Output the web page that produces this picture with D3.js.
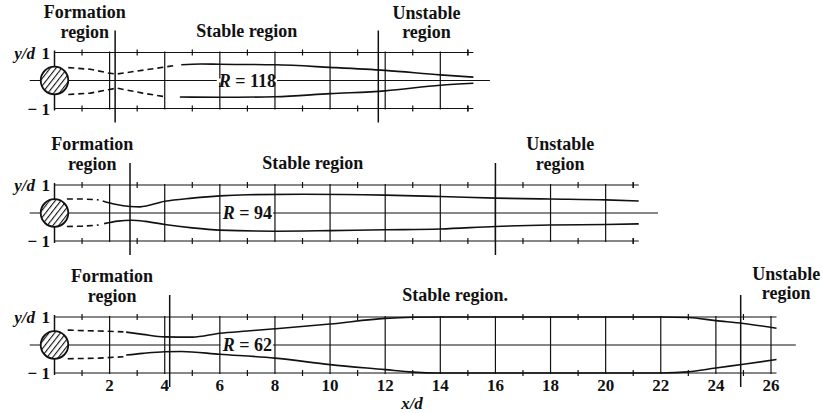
<!DOCTYPE html>
<html lang="en">
<head>
<meta charset="utf-8">
<title>Vortex street regions</title>
<script src="https://cdn.jsdelivr.net/npm/d3@7"></script>
<style type="text/css">
body { margin: 0; background: #fff; }
text { font-family: "Liberation Serif", "Times New Roman", serif; font-weight: bold; fill: #111; }
.grid { stroke: #111; stroke-width: 1.2; fill: none; }
.edge { stroke: #111; stroke-width: 1.5; fill: none; }
.street { stroke: #111; stroke-width: 1.6; fill: none; }
.dash { stroke: #111; stroke-width: 1.6; fill: none; stroke-dasharray: 6,4; }
</style>
</head>
<body>
<script type="text/javascript">

// data, in x/d and y/d
var reynolds = [118, 94, 62];
var formationEnd = [2.2, 2.74, 4.18];
var unstableStart = [11.75, 16, 24.9];
var gridEnd = [14, 20, 26];
var borderEnd = [15.2, 21.2, 26.2];
var axisEnd = [15.8, 21.9, 26.9];
var xTickLabels = [2, 4, 6, 8, 10, 12, 14, 16, 18, 20, 22, 24, 26];
var stableText = ["Stable region", "Stable region", "Stable region."];

// R = 118
var r118UpperDash = [[0.5, 0.46], [1.3, 0.4], [1.95, 0.27], [2.25, 0.23], [3.3, 0.38], [4.4, 0.54]];
var r118Upper = [[4.6, 0.56], [5.3, 0.59], [6, 0.58], [8, 0.56], [10, 0.47], [12, 0.36], [14, 0.2], [15.2, 0.12]];
var r118LowerDash = [[0.5, -0.5], [1.3, -0.45], [1.95, -0.33], [2.25, -0.27], [3.2, -0.45], [3.95, -0.57]];
var r118Lower = [[4.55, -0.59], [6, -0.6], [8, -0.58], [10, -0.47], [12, -0.37], [14, -0.17], [15.2, -0.1]];

// R = 94
var r94UpperDash = [[0.45, 0.5], [1.0, 0.5], [1.6, 0.47]];
var r94Upper = [[1.75, 0.43], [2.2, 0.31], [2.74, 0.23], [3.1, 0.22], [4, 0.42], [5, 0.53], [6, 0.61], [7, 0.65], [9, 0.67],
                [12, 0.64], [14, 0.59], [16, 0.53], [18, 0.5], [20, 0.47], [21.2, 0.43]];
var r94LowerDash = [[0.45, -0.48], [1.0, -0.47], [1.6, -0.43]];
var r94Lower = [[1.8, -0.38], [2.3, -0.29], [2.8, -0.26], [3.3, -0.3], [4, -0.41], [5, -0.53], [6, -0.61], [8, -0.65],
                [10, -0.63], [12, -0.6], [14, -0.57], [16, -0.48], [18, -0.43], [20, -0.41], [21.2, -0.39]];

// R = 62
var r62UpperDash = [[0.48, 0.53], [1.6, 0.5], [2.5, 0.47]];
var r62Upper = [[2.6, 0.46], [3.2, 0.38], [4, 0.29], [5, 0.28], [6, 0.42], [7, 0.5], [8, 0.58], [10, 0.75], [12, 0.95],
                [13, 0.99], [14, 1], [22, 1], [23, 0.98], [24, 0.87], [25, 0.77], [26.2, 0.6]];
var r62LowerDash = [[0.48, -0.49], [1.6, -0.47], [2.5, -0.42]];
var r62Lower = [[2.6, -0.36], [3.2, -0.3], [4, -0.24], [4.6, -0.23], [6, -0.33], [8, -0.47], [10, -0.7], [12, -0.88],
                [13, -0.97], [14, -1], [22, -1], [23, -0.96], [24, -0.82], [25, -0.69], [26.2, -0.52]];

var dashed = [[r118UpperDash, r118LowerDash], [r94UpperDash, r94LowerDash], [r62UpperDash, r62LowerDash]];
var solid = [[r118Upper, r118Lower], [r94Upper, r94Lower], [r62Upper, r62Lower]];

// layout
var panelTop = [52.5, 185, 317];
var panelH = 56;
var unstableX = [13.5, 18.35, 26.55];
var unstableBase = [[-34, -15], [-35, -15], [-37, -18]];

var svg = d3.select("body")
            .append("svg")
            .attr("width", 823)
            .attr("height", 413);

svg.append("defs")
   .append("pattern")
   .attr("id", "hatch")
   .attr("width", 4.5)
   .attr("height", 4.5)
   .attr("patternUnits", "userSpaceOnUse")
   .attr("patternTransform", "rotate(38)")
   .append("line")
   .attr("x1", 0).attr("y1", 0)
   .attr("x2", 0).attr("y2", 4.5)
   .attr("stroke", "#111")
   .attr("stroke-width", 2.2);

var x = d3.scaleLinear().domain([0, 26]).range([54.5, 771]);

reynolds.forEach(function(R, i) {

  var y = d3.scaleLinear().domain([-1, 1]).range([panelTop[i] + panelH, panelTop[i]]);
  var g = svg.append("g");

  var line = d3.line()
               .x(function(d) { return x(d[0]); })
               .y(function(d) { return y(d[1]); });

  //border lines y/d = 1 and -1
  [1, -1].forEach(function(v) {
    g.append("line").attr("class", "grid")
     .attr("x1", x(0)).attr("x2", x(borderEnd[i]))
     .attr("y1", y(v)).attr("y2", y(v));
  });

  //center line
  g.append("line").attr("class", "grid")
   .attr("x1", x(-0.9)).attr("x2", x(axisEnd[i]))
   .attr("y1", y(0)).attr("y2", y(0));

  //left axis
  g.append("line").attr("class", "edge")
   .attr("x1", x(0)).attr("x2", x(0))
   .attr("y1", y(1) - 2).attr("y2", y(-1) + 2);

  //grid at even x/d
  var even = xTickLabels.filter(function(t) { return t <= gridEnd[i]; });
  g.selectAll(".vgrid")
   .data(even)
   .enter()
   .append("line")
   .attr("class", "grid vgrid")
   .attr("x1", function(d) { return x(d); })
   .attr("x2", function(d) { return x(d); })
   .attr("y1", y(1) - 1)
   .attr("y2", y(-1) + 1);

  //small ticks at odd x/d
  var odd = xTickLabels.map(function(t) { return t - 1; })
                       .concat([gridEnd[i] + 1])
                       .filter(function(t) { return t < borderEnd[i]; });
  [1, -1].forEach(function(v) {
    g.selectAll(".tick" + v)
     .data(odd)
     .enter()
     .append("line")
     .attr("class", "grid")
     .attr("x1", function(d) { return x(d); })
     .attr("x2", function(d) { return x(d); })
     .attr("y1", y(v) - 3)
     .attr("y2", y(v) + 3);
  });

  //region boundaries
  [formationEnd[i], unstableStart[i]].forEach(function(b) {
    g.append("line").attr("class", "edge")
     .attr("x1", x(b)).attr("x2", x(b))
     .attr("y1", y(1) - 22).attr("y2", y(-1) + 14);
  });

  //vortex street
  dashed[i].forEach(function(s) {
    g.append("path").attr("class", "dash").attr("d", line.curve(d3.curveLinear)(s));
  });
  solid[i].forEach(function(s) {
    g.append("path").attr("class", "street").attr("d", line.curve(d3.curveMonotoneX)(s));
  });

  //cylinder
  g.append("circle")
   .attr("cx", x(0)).attr("cy", y(0))
   .attr("r", x(0.5) - x(0))
   .attr("fill", "#fff");
  g.append("circle")
   .attr("cx", x(0)).attr("cy", y(0))
   .attr("r", x(0.5) - x(0))
   .attr("fill", "url(#hatch)")
   .attr("stroke", "#111")
   .attr("stroke-width", 1.8);

  //Reynolds number label
  var rl = g.append("text")
            .attr("x", x(7))
            .attr("y", y(0) + 6)
            .attr("text-anchor", "middle")
            .style("font-size", "18px");
  rl.append("tspan").style("font-style", "italic").text("R");
  rl.append("tspan").text(" = " + R);
  var bb = rl.node().getBBox();
  g.insert("rect", "text")
   .attr("x", bb.x - 1).attr("y", y(0) - 2)
   .attr("width", bb.width + 2).attr("height", 4)
   .attr("fill", "#fff");

  //y axis labels
  g.append("text").attr("x", 35).attr("y", y(1) + 6)
   .attr("text-anchor", "end").style("font-size", "17px").style("font-style", "italic").text("y/d");
  g.append("text").attr("x", 50).attr("y", y(1) + 6)
   .attr("text-anchor", "end").style("font-size", "17px").text("1");
  g.append("text").attr("x", 50).attr("y", y(-1) + 6)
   .attr("text-anchor", "end").style("font-size", "17px").text("\u2212 1");

  //region labels
  var fx = x(formationEnd[i] / 2);
  g.append("text").attr("x", fx).attr("y", y(1) - 35)
   .attr("text-anchor", "middle").style("font-size", "18px").text("Formation");
  g.append("text").attr("x", fx).attr("y", y(1) - 15)
   .attr("text-anchor", "middle").style("font-size", "18px").text("region");

  g.append("text").attr("x", x((formationEnd[i] + unstableStart[i]) / 2)).attr("y", y(1) - 16)
   .attr("text-anchor", "middle").style("font-size", "18px").text(stableText[i]);

  g.append("text").attr("x", x(unstableX[i])).attr("y", y(1) + unstableBase[i][0])
   .attr("text-anchor", "middle").style("font-size", "18px").text("Unstable");
  g.append("text").attr("x", x(unstableX[i])).attr("y", y(1) + unstableBase[i][1])
   .attr("text-anchor", "middle").style("font-size", "18px").text("region");

  //x axis on the last panel
  if (i === reynolds.length - 1) {
    g.selectAll(".xlab")
     .data(xTickLabels)
     .enter()
     .append("text")
     .attr("x", function(d) { return x(d); })
     .attr("y", y(-1) + 18)
     .attr("text-anchor", "middle")
     .style("font-size", "17px")
     .text(function(d) { return d; });

    g.append("text").attr("x", 412).attr("y", 409)
     .attr("text-anchor", "middle")
     .style("font-size", "17px").style("font-style", "italic")
     .text("x/d");
  }
});

</script>
</body>
</html>
